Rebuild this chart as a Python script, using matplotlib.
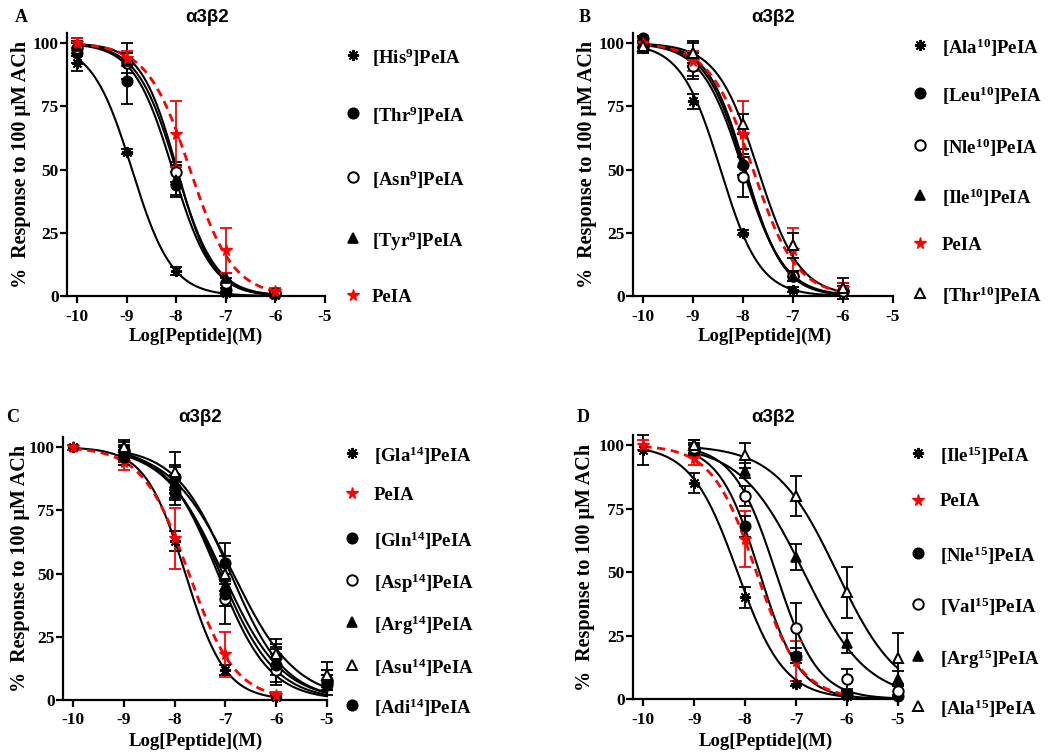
import numpy as np
import matplotlib
matplotlib.use("Agg")
import matplotlib.pyplot as plt
from matplotlib.lines import Line2D

plt.rcParams['font.family'] = ['Liberation Serif', 'DejaVu Serif']
plt.rcParams['font.weight'] = 'bold'
plt.rcParams['axes.unicode_minus'] = False
plt.rcParams['mathtext.fontset'] = 'custom'
plt.rcParams['mathtext.rm'] = 'Liberation Serif:bold'
plt.rcParams['mathtext.bf'] = 'Liberation Serif:bold'
plt.rcParams['mathtext.it'] = 'Liberation Serif:bold:italic'

W, H = 1050, 755
FS_TICK = 12.5
FS_LEG = 13.5
FS_XLAB = 13.5
FS_YLAB = 14.5
FS_TITLE = 13.5
FS_LETTER = 13

# ---------------- data ----------------
# Panel A
a_labels = [r'[His$^{9}$]PeIA', r'[Thr$^{9}$]PeIA', r'[Asn$^{9}$]PeIA', r'[Tyr$^{9}$]PeIA', 'PeIA']
a_x = [-10, -9, -8, -7, -6]
a_His9 = [92, 57, 10, 1, 0.5]
a_His9_err = [3, 1, 1.5, 0.5, 0.5]
a_Thr9 = [96, 85, 44, 2.5, 1]
a_Thr9_err = [4, 9, 5, 2, 1]
a_Asn9 = [98, 92, 49, 5, 1]
a_Asn9_err = [3, 4, 4, 2, 1]
a_Tyr9 = [99, 93, 46, 7, 1]
a_Tyr9_err = [3, 7, 6, 2, 1]
a_PeIA = [100, 94, 64, 18, 2]
a_PeIA_err = [2, 3, 13, 9, 1]
a_logic50 = [-8.89, -8.07, -8.0, -7.98, -7.72]
a_hill = [1.08, 1.1, 1.1, 1.2, 1.0]

# Panel B
b_labels = [r'[Ala$^{10}$]PeIA', r'[Leu$^{10}$]PeIA', r'[Nle$^{10}$]PeIA',
            r'[Ile$^{10}$]PeIA', 'PeIA', r'[Thr$^{10}$]PeIA']
b_x = [-10, -9, -8, -7, -6]
b_Ala10 = [98, 77, 25, 2.5, 1]
b_Ala10_err = [2, 3, 1, 1, 0.5]
b_Leu10 = [102, 91, 52, 8, 2]
b_Leu10_err = [1, 4, 4, 2, 2]
b_Nle10 = [99, 91, 47, 8, 2]
b_Nle10_err = [2, 5, 8, 2, 2]
b_Ile10 = [100, 96, 53, 8, 3]
b_Ile10_err = [2, 5, 5, 2, 2]
b_PeIA = [100, 93, 64, 18, 3]
b_PeIA_err = [2, 4, 13, 9, 2]
b_Thr10 = [99, 96, 68, 20, 3]
b_Thr10_err = [2, 4, 4, 5, 4]
b_logic50 = [-8.45, -7.97, -8.0, -7.95, -7.8, -7.7]
b_hill = [1.1, 1.1, 1.05, 1.15, 1.0, 1.05]

# Panel C
c_labels = [r'[Gla$^{14}$]PeIA', 'PeIA', r'[Gln$^{14}$]PeIA', r'[Asp$^{14}$]PeIA',
            r'[Arg$^{14}$]PeIA', r'[Asu$^{14}$]PeIA', r'[Adi$^{14}$]PeIA']
c_x1 = [-10, -9, -8, -7, -6]
c_x2 = [-9, -8, -7, -6, -5]
c_Gla14 = [100, 96, 63, 12, 1]
c_Gla14_err = [1, 3, 4, 2, 1]
c_PeIA = [100, 94, 64, 18, 2]
c_PeIA_err = [1, 3, 12, 9, 1]
c_Gln14 = [99, 88, 54, 17, 8]
c_Gln14_err = [3, 5, 8, 5, 4]
c_Asp14 = [98, 84, 40, 12, 7]
c_Asp14_err = [3, 5, 10, 6, 3]
c_Arg14 = [97, 86, 45, 15, 8]
c_Arg14_err = [3, 6, 8, 5, 4]
c_Asu14 = [100, 90, 50, 18, 10]
c_Asu14_err = [3, 8, 7, 6, 5]
c_Adi14 = [96, 82, 42, 14, 6]
c_Adi14_err = [3, 5, 5, 7, 4]
c_logic50 = [-7.79, -7.72, -6.9, -7.1, -7.05, -6.85, -7.15]
c_hill = [1.1, 0.95, 0.8, 0.8, 0.75, 0.7, 0.85]

# Panel D
d_labels = [r'[Ile$^{15}$]PeIA', 'PeIA', r'[Nle$^{15}$]PeIA', r'[Val$^{15}$]PeIA',
            r'[Arg$^{15}$]PeIA', r'[Ala$^{15}$]PeIA']
d_x1 = [-10, -9, -8, -7, -6]
d_x2 = [-9, -8, -7, -6, -5]
d_Ile15 = [98, 85, 40, 6, 1]
d_Ile15_err = [6, 4, 4, 1, 0.5]
d_PeIA = [100, 95, 63, 15, 2]
d_PeIA_err = [2, 3, 11, 8, 1]
d_Nle15 = [98, 68, 17, 2, 1]
d_Nle15_err = [2, 4, 3, 1, 0.5]
d_Val15 = [99, 80, 28, 8, 3]
d_Val15_err = [2, 4, 10, 4, 2]
d_Arg15 = [100, 90, 56, 22, 8]
d_Arg15_err = [2, 3, 5, 4, 3]
d_Ala15 = [100, 96, 80, 42, 16]
d_Ala15_err = [2, 5, 8, 10, 10]
d_logic50 = [-8.15, -7.78, -7.72, -7.4, -6.85, -6.2]
d_hill = [0.95, 1.0, 1.1, 1.05, 0.7, 0.72]

# ---------------- styles ----------------
AST = dict(marker=(8, 2, 0), color='black', mfc='black', mec='black', ms=8, mew=1.4)
FCIR = dict(marker='o', color='black', mfc='black', mec='black', ms=7.5, mew=1.2)
OCIR = dict(marker='o', color='black', mfc='white', mec='black', ms=7.5, mew=1.4)
FTRI = dict(marker='^', color='black', mfc='black', mec='black', ms=7.5, mew=1.2)
OTRI = dict(marker='^', color='black', mfc='white', mec='black', ms=7.5, mew=1.4)
RSTAR = dict(marker='*', color='red', mfc='red', mec='red', ms=8.5, mew=1)


def px(x, y):
    return x / W, 1 - y / H


fig = plt.figure(figsize=(W / 100, H / 100), dpi=100)


def make_ax(left, right, top, bottom):
    l, b = px(left, bottom)
    ax = fig.add_axes([l, b, (right - left) / W, (bottom - top) / H])
    ax.set_xlim(-10.2, -5)
    ax.set_ylim(0, 104)
    ax.set_xticks([-10, -9, -8, -7, -6, -5])
    ax.set_yticks([0, 25, 50, 75, 100])
    for s in ['top', 'right']:
        ax.spines[s].set_visible(False)
    for s in ['left', 'bottom']:
        ax.spines[s].set_linewidth(1.6)
    ax.tick_params(direction='out', length=5, width=1.6, labelsize=FS_TICK)
    ax.tick_params(axis='x', pad=4)
    ax.tick_params(axis='y', pad=1)
    for t in ax.get_xticklabels() + ax.get_yticklabels():
        t.set_fontweight('bold')
    return ax


def hill(x, logic50, n):
    return 100.0 / (1 + 10 ** (n * (x - logic50)))


def series(ax, x, y, err, style, logic50, n, red=False):
    xx = np.linspace(min(x), max(x), 300)
    col = 'red' if red else 'black'
    if red:
        ax.plot(xx, hill(xx, logic50, n), color='red', lw=2.0, ls=(0, (3, 2)), zorder=4, clip_on=False)
    else:
        ax.plot(xx, hill(xx, logic50, n), color='black', lw=1.5, zorder=3, clip_on=False)
    ax.errorbar(x, y, yerr=err, fmt='none', ecolor=col, elinewidth=1.3, capsize=4,
                capthick=1.3, zorder=5, clip_on=False)
    st = dict(style)
    st.pop('color')
    ax.plot(x, y, ls='none', zorder=6, clip_on=False, **st)


def legend(entries, mx, tx, ys):
    for (style, lab), y in zip(entries, ys):
        st = dict(style)
        st.pop('color')
        fx, fy = px(mx, y)
        fig.add_artist(Line2D([fx], [fy], transform=fig.transFigure, ls='none', **st))
        tx_, ty_ = px(tx, y)
        fig.text(tx_, ty_, lab, fontsize=FS_LEG, fontweight='bold', ha='left', va='center_baseline')


def labels(letter, lx, ly, tx, ty, ylx, yly, xlx, xly):
    fig.text(*px(lx, ly), letter, fontsize=FS_LETTER, fontweight='bold', ha='center', va='center')
    fig.text(*px(tx, ty), 'α3β2', fontsize=FS_TITLE, fontweight='bold', ha='center', va='center',
             family=['Liberation Sans', 'DejaVu Sans'])
    fig.text(*px(ylx, yly), '%  Response to 100 μM ACh', fontsize=FS_YLAB, fontweight='bold',
             rotation=90, ha='center', va='center')
    fig.text(*px(xlx, xly), 'Log[Peptide](M)', fontsize=FS_XLAB, fontweight='bold',
             ha='center', va='center')


# Panel A
axA = make_ax(67, 325, 33, 296)
a_styles = [AST, FCIR, OCIR, FTRI, RSTAR]
a_data = [(a_His9, a_His9_err), (a_Thr9, a_Thr9_err), (a_Asn9, a_Asn9_err),
          (a_Tyr9, a_Tyr9_err), (a_PeIA, a_PeIA_err)]
for (y, e), st, lc, nh in zip(a_data, a_styles, a_logic50, a_hill):
    series(axA, a_x, y, e, st, lc, nh, red=(st is RSTAR))
legend(list(zip(a_styles, a_labels)), 353, 372, [55, 113, 177, 238, 295])
labels('A', 21, 17, 207, 17, 21, 164, 196, 336)

# Panel B
axB = make_ax(633, 893, 33, 296)
b_styles = [AST, FCIR, OCIR, FTRI, RSTAR, OTRI]
b_data = [(b_Ala10, b_Ala10_err), (b_Leu10, b_Leu10_err), (b_Nle10, b_Nle10_err),
          (b_Ile10, b_Ile10_err), (b_PeIA, b_PeIA_err), (b_Thr10, b_Thr10_err)]
for (y, e), st, lc, nh in zip(b_data, b_styles, b_logic50, b_hill):
    series(axB, b_x, y, e, st, lc, nh, red=(st is RSTAR))
legend(list(zip(b_styles, b_labels)), 920, 942, [45, 93, 145, 195, 243, 293])
labels('B', 585, 17, 773, 17, 587, 164, 765, 336)

# Panel C
axC = make_ax(63, 327, 437, 700)
c_styles = [AST, RSTAR, FCIR, OCIR, FTRI, OTRI, FCIR]
c_data = [(c_x1, c_Gla14, c_Gla14_err), (c_x1, c_PeIA, c_PeIA_err),
          (c_x2, c_Gln14, c_Gln14_err), (c_x2, c_Asp14, c_Asp14_err),
          (c_x2, c_Arg14, c_Arg14_err), (c_x2, c_Asu14, c_Asu14_err),
          (c_x2, c_Adi14, c_Adi14_err)]
for (x, y, e), st, lc, nh in zip(c_data, c_styles, c_logic50, c_hill):
    series(axC, x, y, e, st, lc, nh, red=(st is RSTAR))
legend(list(zip(c_styles, c_labels)), 352, 374, [453, 493, 538, 580, 622, 665, 705])
labels('C', 13, 418, 200, 418, 20, 568, 196, 741)

# Panel D
axD = make_ax(633, 898, 435, 699)
d_styles = [AST, RSTAR, FCIR, OCIR, FTRI, OTRI]
d_data = [(d_x1, d_Ile15, d_Ile15_err), (d_x1, d_PeIA, d_PeIA_err),
          (d_x2, d_Nle15, d_Nle15_err), (d_x2, d_Val15, d_Val15_err),
          (d_x2, d_Arg15, d_Arg15_err), (d_x2, d_Ala15, d_Ala15_err)]
for (x, y, e), st, lc, nh in zip(d_data, d_styles, d_logic50, d_hill):
    series(axD, x, y, e, st, lc, nh, red=(st is RSTAR))
legend(list(zip(d_styles, d_labels)), 918, 940, [453, 500, 553, 604, 656, 706])
labels('D', 583, 418, 773, 418, 585, 567, 766, 741)

fig.savefig('out.png', dpi=100)
